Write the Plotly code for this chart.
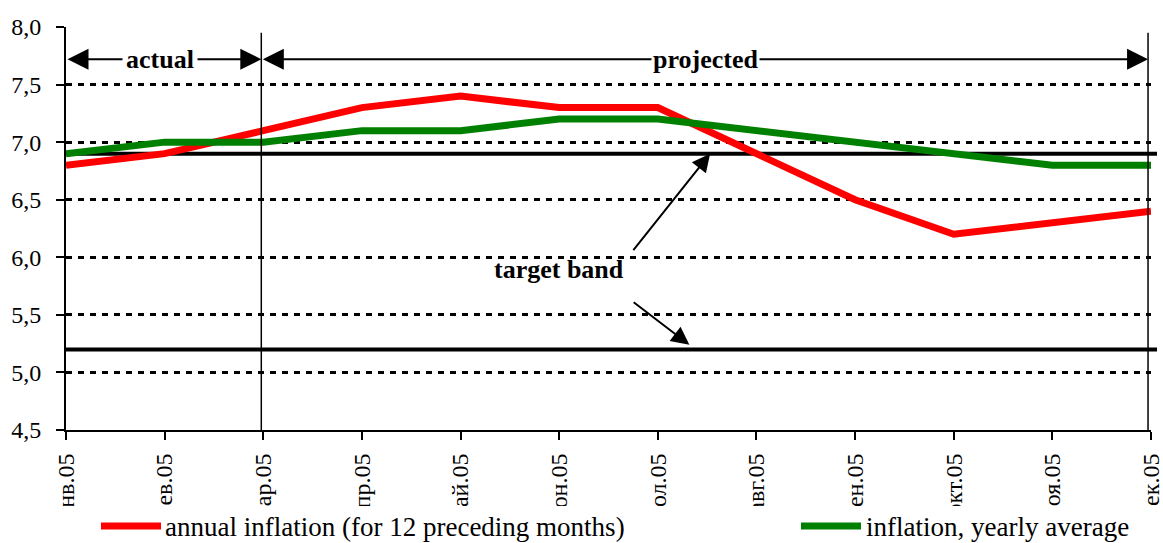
import plotly.graph_objects as go

# Months of 2005 (Russian abbreviations)
months = ["янв.05", "фев.05", "мар.05", "апр.05", "май.05", "июн.05",
          "июл.05", "авг.05", "сен.05", "окт.05", "ноя.05", "дек.05"]

# Annual inflation for the 12 preceding months, %
annual_inflation = [6.8, 6.9, 7.1, 7.3, 7.4, 7.3, 7.3, 6.9, 6.5, 6.2, 6.3, 6.4]
# Inflation, yearly average, %
average_inflation = [6.9, 7.0, 7.0, 7.1, 7.1, 7.2, 7.2, 7.1, 7.0, 6.9, 6.8, 6.8]
# Target band bounds, %
target_upper = 6.9
target_lower = 5.2

y_ticks = [4.5, 5.0, 5.5, 6.0, 6.5, 7.0, 7.5, 8.0]

FONT = "Liberation Serif, Times New Roman, serif"
W, H = 1163, 543
ML, MR, MT, MB = 66, 12, 27, 113
PW, PH = W - ML - MR, H - MT - MB


def px_x(p):
    """Pixel column -> paper x."""
    return (p - ML) / PW


def px_y(p):
    """Pixel row -> paper y."""
    return (H - MB - p) / PH


idx = list(range(len(months)))

fig = go.Figure()
fig.add_trace(go.Scatter(x=idx, y=annual_inflation, mode="lines",
                         line=dict(color="#FF0000", width=7),
                         name="annual inflation (for 12 preceding months)",
                         showlegend=False))
fig.add_trace(go.Scatter(x=idx, y=average_inflation, mode="lines",
                         line=dict(color="#008000", width=7),
                         name="inflation, yearly average",
                         showlegend=False))

shapes = []
# target band bounds
for v in (target_upper, target_lower):
    shapes.append(dict(type="line", xref="paper", yref="y", x0=0, x1=px_x(1157),
                       y0=v, y1=v, line=dict(color="black", width=4),
                       layer="between"))
# boundary between actual and projected data, end of projection
for xv in (1.98, 10.97):
    shapes.append(dict(type="line", xref="x", yref="y", x0=xv, x1=xv,
                       y0=4.5, y1=7.95, line=dict(color="black", width=1.5),
                       layer="above"))
# hide the lower part of the month labels
shapes.append(dict(type="rect", xref="paper", yref="paper",
                   x0=px_x(0), x1=px_x(W), y0=px_y(506), y1=px_y(H),
                   fillcolor="white", line=dict(width=0), layer="above"))
# legend samples
shapes.append(dict(type="line", xref="paper", yref="paper",
                   x0=px_x(101), x1=px_x(161), y0=px_y(526), y1=px_y(526),
                   line=dict(color="#FF0000", width=7), layer="above"))
shapes.append(dict(type="line", xref="paper", yref="paper",
                   x0=px_x(801), x1=px_x(861), y0=px_y(526), y1=px_y(526),
                   line=dict(color="#008000", width=7), layer="above"))

arrow_y = 7.72
annotations = [
    # actual period arrow
    dict(x=1.98, y=arrow_y, ax=0, ay=arrow_y, axref="x", ayref="y",
         xref="x", yref="y", text="", showarrow=True, arrowside="end+start",
         arrowhead=2, startarrowhead=2, arrowsize=2.1, startarrowsize=2.1,
         arrowwidth=2, arrowcolor="black"),
    # projected period arrow
    dict(x=10.97, y=arrow_y, ax=1.98, ay=arrow_y, axref="x", ayref="y",
         xref="x", yref="y", text="", showarrow=True, arrowside="end+start",
         arrowhead=2, startarrowhead=2, arrowsize=2.1, startarrowsize=2.1,
         arrowwidth=2, arrowcolor="black"),
    dict(x=0.953, y=arrow_y, xref="x", yref="y", text="<b>actual</b>",
         showarrow=False, bgcolor="white", borderpad=3,
         font=dict(family=FONT, size=26, color="black")),
    dict(x=6.48, y=arrow_y, xref="x", yref="y", text="<b>projected</b>",
         showarrow=False, bgcolor="white", borderpad=1,
         font=dict(family=FONT, size=26, color="black")),
    # target band pointers
    dict(x=6.53, y=6.9, ax=5.74, ay=6.05, axref="x", ayref="y",
         xref="x", yref="y", text="", showarrow=True, arrowhead=2,
         arrowsize=1.8, arrowwidth=2, arrowcolor="black"),
    dict(x=6.32, y=5.24, ax=5.74, ay=5.62, axref="x", ayref="y",
         xref="x", yref="y", text="", showarrow=True, arrowhead=2,
         arrowsize=1.8, arrowwidth=2, arrowcolor="black"),
    dict(x=5.0, y=5.89, xref="x", yref="y", text="<b>target band</b>",
         showarrow=False, font=dict(family=FONT, size=26, color="black")),
    # legend labels
    dict(x=px_x(163), y=px_y(527), xref="paper", yref="paper",
         xanchor="left", yanchor="middle", showarrow=False,
         text="annual inflation (for 12 preceding months)",
         font=dict(family=FONT, size=27, color="black")),
    dict(x=px_x(864), y=px_y(527), xref="paper", yref="paper",
         xanchor="left", yanchor="middle", showarrow=False,
         text="inflation, yearly average",
         font=dict(family=FONT, size=27, color="black")),
]

fig.update_layout(
    width=W, height=H,
    margin=dict(l=ML, r=MR, t=MT, b=MB, pad=0, autoexpand=False),
    paper_bgcolor="white", plot_bgcolor="white",
    separators=", ",
    font=dict(family=FONT, size=24, color="black"),
    shapes=shapes, annotations=annotations,
    showlegend=False,
)
fig.update_xaxes(
    range=[0, 11], tickmode="array", tickvals=idx, ticktext=months,
    tickangle=-90, ticks="outside", ticklen=8, tickwidth=2, tickcolor="black",
    ticklabelstandoff=4, ticklabeloverflow="allow", automargin=False,
    showline=True, linecolor="black", linewidth=2,
    showgrid=False, zeroline=False,
    tickfont=dict(family=FONT, size=24, color="black"),
)
fig.update_yaxes(
    range=[4.5, 8.0], tickmode="array", tickvals=y_ticks, tickformat=".1f",
    ticks="outside", ticklen=8, tickwidth=2, tickcolor="black",
    ticklabelstandoff=10, automargin=False,
    showline=True, linecolor="black", linewidth=2,
    showgrid=True, gridcolor="black", gridwidth=2.5, griddash="6px,6px",
    zeroline=False,
    tickfont=dict(family=FONT, size=24, color="black"),
)

fig.write_html("out.html")
